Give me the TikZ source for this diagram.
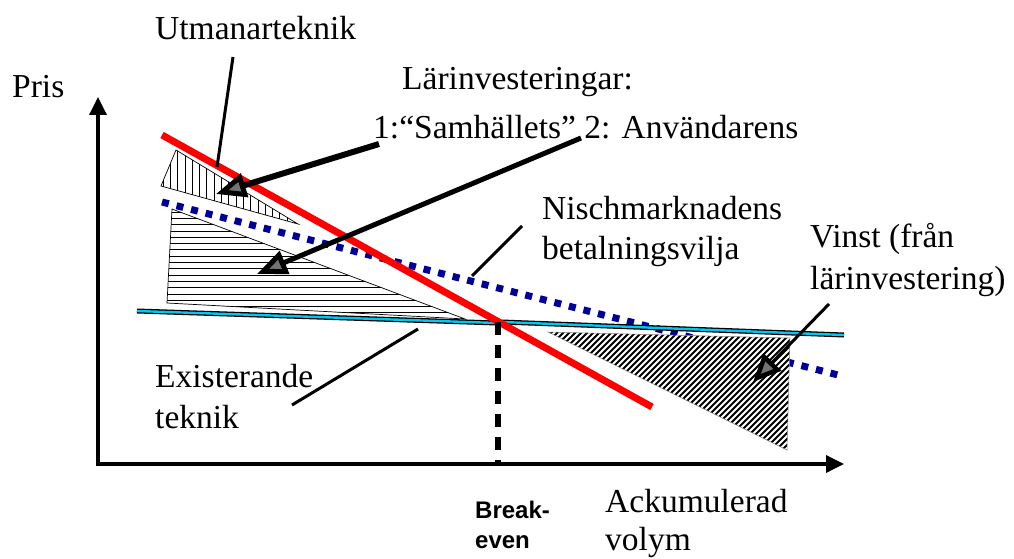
\documentclass[tikz,border=0pt]{standalone}
\usepackage{fontspec}
\setmainfont{Liberation Serif}
\setsansfont{Liberation Sans}
\usetikzlibrary{arrows.meta}
\definecolor{redline}{RGB}{255,0,0}
\definecolor{navyline}{RGB}{0,0,153}
\definecolor{cyanline}{RGB}{0,200,240}
\begin{document}
\begin{tikzpicture}[x=1pt,y=-1pt,
 lbl/.style={inner sep=0pt,anchor=base west,font=\fontsize{33.5}{40}\selectfont},
 belbl/.style={inner sep=0pt,anchor=base west,font=\sffamily\bfseries\fontsize{24}{28}\selectfont},
 axisline/.style={line width=3.5pt,-{Triangle[length=18pt,width=17pt]}},
 pointer/.style={line width=3pt},
 bigarrow/.style={-{Triangle[length=30pt,width=24pt,line width=5pt,fill=black!55]}},
 hatchline/.style={line width=0.8pt},
 tribox/.style={draw=black,line width=0.7pt}
]
\useasboundingbox (0,0) rectangle (1014,559);
% coordinates
\coordinate (t1a) at (176,150); \coordinate (t1b) at (161,186); \coordinate (t1c) at (298,224);
\coordinate (t2a) at (172,209); \coordinate (t2b) at (167,303); \coordinate (t2c) at (465,319);
\coordinate (t3a) at (548,332); \coordinate (t3b) at (790,338); \coordinate (t3c) at (787,450);
\coordinate (rs) at (162,135); \coordinate (re) at (652,407);
\coordinate (bs) at (162,202); \coordinate (bend) at (838,375);
\coordinate (cs) at (137,311); \coordinate (cm1) at (497,323); \coordinate (cm2) at (502,322); \coordinate (ce) at (844,335);
\coordinate (bes) at (498,322); \coordinate (bee) at (498,464);
\coordinate (origin) at (98,465); \coordinate (ytip) at (98,97);
\coordinate (xorig) at (96,464); \coordinate (xtip) at (844,464);
% hatched area 1 (vertical lines)
\begin{scope}
\clip (t1a) -- (t1b) -- (t1c) -- cycle;
\foreach \x in {163,170.3,...,300} \draw[hatchline] (\x,140) -- (\x,230);
\end{scope}
\draw[tribox] (t1a) -- (t1b) -- (t1c) -- cycle;
% hatched area 2 (horizontal lines)
\begin{scope}
\clip (t2a) -- (t2b) -- (t2c) -- cycle;
\foreach \y in {212,218.3,...,322} \draw[hatchline] (160,\y) -- (470,\y);
\end{scope}
\draw[tribox] (t2a) -- (t2b) -- (t2c) -- cycle;
% niche willingness to pay
\draw[navyline,line width=7pt,dash pattern=on 7pt off 8pt] (bs) -- (bend);
% existing technology
\draw[black,line width=5pt] (cs) -- (cm1);
\draw[cyanline,line width=2.4pt] (cs) -- (cm1);
\draw[black,line width=5pt] (cm2) -- (ce);
\draw[cyanline,line width=2.4pt] (cm2) -- (ce);
% profit area
\fill[white] (t3a) -- (t3b) -- (t3c) -- cycle;
\begin{scope}
\clip (t3a) -- (t3b) -- (t3c) -- cycle;
\foreach \s in {878,884,...,1245} \draw[line width=2pt] (\s-320,320) -- (\s-460,460);
\end{scope}
\draw[draw=gray,line width=0.5pt] (t3a) -- (t3b) -- (t3c) -- cycle;
% challenger technology
\draw[redline,line width=7pt] (rs) -- (re);
% break-even
\draw[black,line width=6pt,dash pattern=on 13pt off 10pt] (bes) -- (bee);
% axes
\draw[axisline] (origin) -- (ytip);
\draw[axisline] (xorig) -- (xtip);
% texts
\node[lbl] (pris) at (12,98) {Pris};
\node[lbl] (utm) at (155,40) {Utmanarteknik};
\node[lbl] (lar) at (402,90) {Lärinvesteringar:};
\node[lbl] (sam) at (373,139) {1:“Samhällets” 2: Användarens};
\node[lbl] (nis1) at (542,219) {Nischmarknadens};
\node[lbl] (nis2) at (542,259) {betalningsvilja};
\node[lbl] (vin1) at (810,247) {Vinst (från};
\node[lbl] (vin2) at (810,289) {lärinvestering)};
\node[lbl] (exi1) at (155,387) {Existerande};
\node[lbl] (exi2) at (155,428) {teknik};
\node[lbl] (ack1) at (605,512) {Ackumulerad};
\node[lbl] (ack2) at (605,550) {volym};
\node[belbl] (brk1) at (475,518) {Break-};
\node[belbl] (brk2) at (475,548) {even};
% pointers
\coordinate (utmA) at (233,57); \coordinate (utmB) at (217,167);
\coordinate (nisA) at (522,226); \coordinate (nisB) at (472,276);
\coordinate (exiA) at (418,329); \coordinate (exiB) at (292,405);
\coordinate (a1s) at (379,144); \coordinate (a1e) at (216,194);
\coordinate (a2s) at (581,138); \coordinate (a2e) at (257,274);
\coordinate (a3s) at (829,304); \coordinate (a3e) at (753,382);
\draw[pointer] (utmA) -- (utmB);
\draw[pointer] (nisA) -- (nisB);
\draw[pointer] (exiA) -- (exiB);
\draw[bigarrow,line width=6pt] (a1s) -- (a1e);
\draw[bigarrow,line width=5pt] (a2s) -- (a2e);
\draw[line width=3pt,-{Triangle[length=28pt,width=24pt,line width=4.5pt,fill=black!55]}] (a3s) -- (a3e);
\end{tikzpicture}
\end{document}
